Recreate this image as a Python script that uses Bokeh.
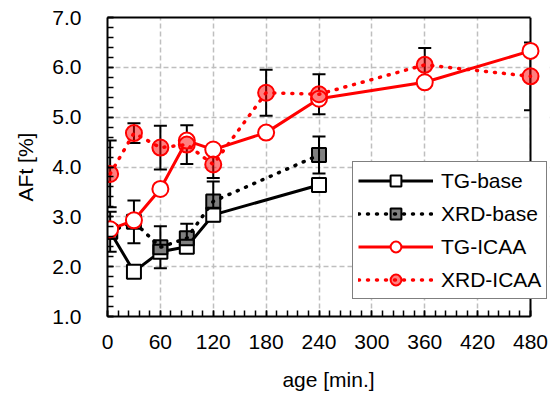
from bokeh.plotting import figure
from bokeh.models import (ColumnDataSource, Whisker, TeeHead, FixedTicker, Range1d,
                          Legend, LegendItem, NumeralTickFormatter, LinearAxis,
                          Span, BoxAnnotation)
from bokeh.embed import file_html
from bokeh.resources import INLINE

# ---- data ----
age_base = [3, 30, 60, 90, 120, 240]
tg_base = [2.70, 1.90, 2.30, 2.40, 3.04, 3.64]
xrd_base = [2.70, 2.90, 2.39, 2.57, 3.31, 4.24]
xrd_base_err = [0.40, 0.43, 0.42, 0.29, 0.40, 0.37]

age_icaa = [3, 30, 60, 90, 120, 180, 240, 360, 480]
tg_icaa = [2.75, 2.93, 3.56, 4.53, 4.35, 4.69, 5.37, 5.70, 6.33]
xrd_icaa = [3.86, 4.68, 4.39, 4.45, 4.05, 5.49, 5.46, 6.05, 5.82]
xrd_icaa_err = [0.67, 0.20, 0.44, 0.39, 0.27, 0.46, 0.40, 0.34, 0.68]

x_ticks = [0, 60, 120, 180, 240, 300, 360, 420, 480]
y_ticks = [1.0, 2.0, 3.0, 4.0, 5.0, 6.0, 7.0]

X_MIN, X_MAX = 0, 480
Y_MIN, Y_MAX = 1.0, 7.0

FONT = "Liberation Sans"
FS = "21px"

# the frame is a little wider than the data area so the legend can overhang
FRAME_L, DATA_R, FRAME_R = 107, 530, 549
x_end = X_MAX * (FRAME_R - FRAME_L) / (DATA_R - FRAME_L)

p = figure(width=553, height=399, output_backend="svg", toolbar_location=None,
           x_range=Range1d(X_MIN, x_end), y_range=Range1d(Y_MIN, Y_MAX),
           min_border_left=FRAME_L, min_border_right=553 - FRAME_R, min_border_top=17,
           min_border_bottom=83)

p.outline_line_color = None

# axes
p.xaxis.ticker = FixedTicker(ticks=x_ticks, minor_ticks=list(range(0, 481, 12)))
p.yaxis.ticker = FixedTicker(ticks=y_ticks, minor_ticks=[1.0 + 0.2 * i for i in range(31)])
p.yaxis.formatter = NumeralTickFormatter(format="0.0")
p.xaxis.bounds = (X_MIN, X_MAX)
for ax in (p.xaxis[0], p.yaxis[0]):
    ax.axis_line_width = 2
    ax.axis_line_color = "black"
    ax.major_tick_in = 6
    ax.major_tick_out = 0
    ax.minor_tick_in = 6
    ax.minor_tick_out = 0
    ax.major_tick_line_width = 1.5
    ax.minor_tick_line_width = 1.5
    ax.major_label_text_font = FONT
    ax.major_label_text_font_size = FS
    ax.major_label_text_color = "black"
    ax.axis_label_text_font = FONT
    ax.axis_label_text_font_size = FS
    ax.axis_label_text_font_style = "normal"
    ax.axis_label_text_color = "black"

p.xaxis.axis_label = "age [min.]"
p.yaxis.axis_label = "AFt [%]"
p.xaxis.major_label_standoff = 18
p.yaxis.major_label_standoff = 26
p.xaxis.axis_label_standoff = 16
p.yaxis.axis_label_standoff = 12

# top border of the data area
top = LinearAxis(ticker=FixedTicker(ticks=[]), bounds=(X_MIN, X_MAX),
                 axis_line_width=2, axis_line_color="black",
                 major_tick_in=0, major_tick_out=0, minor_tick_in=0, minor_tick_out=0,
                 major_label_text_font_size="1px", major_label_standoff=0)
p.add_layout(top, "above")

p.xgrid.grid_line_color = "#BFBFBF"
p.ygrid.grid_line_color = "#BFBFBF"
p.xgrid.grid_line_dash = "5 3"
p.ygrid.grid_line_dash = "5 3"
p.xgrid.grid_line_width = 1.5
p.ygrid.grid_line_width = 1.5

# error bars
src_xb = ColumnDataSource(dict(x=age_base, y=xrd_base,
                               lo=[v - e for v, e in zip(xrd_base, xrd_base_err)],
                               hi=[v + e for v, e in zip(xrd_base, xrd_base_err)]))
src_xi = ColumnDataSource(dict(x=age_icaa, y=xrd_icaa,
                               lo=[v - e for v, e in zip(xrd_icaa, xrd_icaa_err)],
                               hi=[v + e for v, e in zip(xrd_icaa, xrd_icaa_err)]))
for src in (src_xb, src_xi):
    w = Whisker(source=src, base="x", lower="lo", upper="hi",
                line_color="black", line_width=2, level="underlay",
                upper_head=TeeHead(size=13, line_width=2, line_color="black"),
                lower_head=TeeHead(size=13, line_width=2, line_color="black"))
    p.add_layout(w)

# blank out the strip right of the data area, then draw its right border
p.add_layout(BoxAnnotation(left=X_MAX, fill_color="white", fill_alpha=1.0,
                           line_color=None, level="underlay"))
p.add_layout(Span(location=X_MAX, dimension="height", line_color="black",
                  line_width=2, level="underlay"))

# series
l1 = p.line(age_base, tg_base, line_color="black", line_width=3)
m1 = p.scatter(age_base, tg_base, marker="square", size=14, fill_color="white",
               line_color="black", line_width=2)

l2 = p.line(age_base, xrd_base, line_color="black", line_width=3.5,
            line_dash="1 8", line_cap="round")
m2 = p.scatter(age_base, xrd_base, marker="square", size=14, fill_color="black",
               fill_alpha=0.5, line_color="black", line_width=2)

l3 = p.line(age_icaa, tg_icaa, line_color="#FF0000", line_width=3)
m3 = p.scatter(age_icaa, tg_icaa, marker="circle", size=16, fill_color="white",
               line_color="#FF0000", line_width=2)

l4 = p.line(age_icaa, xrd_icaa, line_color="#FF0000", line_width=3.5,
            line_dash="1 8", line_cap="round")
m4 = p.scatter(age_icaa, xrd_icaa, marker="circle", size=16, fill_color="#FF0000",
               fill_alpha=0.5, line_color="#FF0000", line_width=2)

legend = Legend(items=[
    LegendItem(label="TG-base", renderers=[l1, m1]),
    LegendItem(label="XRD-base", renderers=[l2, m2]),
    LegendItem(label="TG-ICAA", renderers=[l3, m3]),
    LegendItem(label="XRD-ICAA", renderers=[l4, m4]),
], location=(352 - FRAME_L, 17))
legend.label_text_font = FONT
legend.label_text_font_size = FS
legend.label_text_color = "black"
legend.border_line_color = "black"
legend.border_line_width = 1.5
legend.background_fill_alpha = 1.0
legend.glyph_width = 75
legend.glyph_height = 27
legend.label_height = 27
legend.spacing = 6
legend.padding = 5
legend.margin = 0
legend.label_standoff = 8
p.add_layout(legend, "center")

open("out.html", "w").write(file_html(p, INLINE))
